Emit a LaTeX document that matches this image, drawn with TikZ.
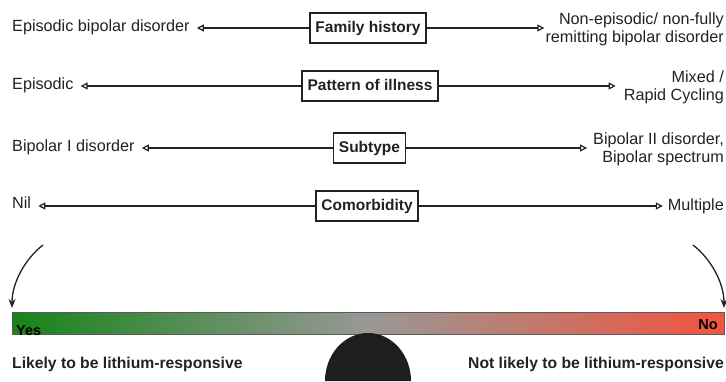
\documentclass[tikz,border=0pt]{standalone}
\usepackage{fontspec}
\setmainfont{Liberation Sans}
\usetikzlibrary{arrows.meta}
\definecolor{ink}{RGB}{34,34,34}
\definecolor{barL}{RGB}{22,132,24}
\definecolor{barM}{RGB}{152,152,150}
\definecolor{barR}{RGB}{242,84,62}
\definecolor{barEdge}{RGB}{90,90,90}
\definecolor{pivot}{RGB}{30,30,30}
\begin{document}
\begin{tikzpicture}[x=1pt,y=-1pt,
  txt/.style={font=\fontsize{16.2}{18}\selectfont, text=ink, inner sep=0pt},
  lefttxt/.style={txt, anchor=mid west},
  righttxt/.style={txt, anchor=east, align=right},
  factor/.style={draw=ink, line width=1.5pt, fill=white, text=ink,
    font=\fontsize{15.5}{18}\selectfont\bfseries,
    minimum height=30pt, inner xsep=5.5pt, text height=11pt, text depth=3pt},
  link/.style={draw=ink, line width=1.3pt,
    -{Triangle[open, length=7pt, width=7pt, line width=1.2pt]}},
  swing/.style={draw=ink, line width=1.3pt, -{Stealth[length=9pt, width=7pt]}},
  verdict/.style={font=\fontsize{15.7}{18}\selectfont\bfseries, text=ink, inner sep=0pt},
  endlabel/.style={font=\fontsize{14.5}{17}\selectfont\bfseries, text=black, inner sep=0pt}
]
\useasboundingbox (0,0) rectangle (726,381);

% factor boxes on the centre line
\node[factor] (fh) at (368,28) {Family history};
\node[factor] (pi) at (370,86) {Pattern of illness};
\node[factor] (st) at (369.5,148) {Subtype};
\node[factor] (cm) at (367,206) {Comorbidity};

% left-hand outcomes
\node[lefttxt] (l1) at (12,29) {Episodic bipolar disorder};
\node[lefttxt] (l2) at (12,87) {Episodic};
\node[lefttxt] (l3) at (12,149) {Bipolar I disorder};
\node[lefttxt] (l4) at (12,206) {Nil};

% right-hand outcomes
\node[righttxt] (r1) at (724,29) {Non-episodic/ non-fully\\remitting bipolar disorder};
\node[righttxt] (r2) at (724,87) {Mixed /\\Rapid Cycling};
\node[righttxt] (r3) at (724,149) {Bipolar II disorder,\\Bipolar spectrum};
\node[righttxt] (r4) at (724,206) {Multiple};

% arrows out of each factor
\draw[link, shorten >=7pt] (fh.west) -- (l1.east |- fh.west);
\draw[link, shorten >=1pt] (fh.east) -- (r1.west |- fh.east);
\draw[link, shorten >=7pt] (pi.west) -- (l2.east |- pi.west);
\draw[link, shorten >=8pt] (pi.east) -- (r2.west |- pi.east);
\draw[link, shorten >=7pt] (st.west) -- (l3.east |- st.west);
\draw[link, shorten >=6pt] (st.east) -- (r3.west |- st.east);
\draw[link, shorten >=7pt] (cm.west) -- (l4.east |- cm.west);
\draw[link, shorten >=5pt] (cm.east) -- (r4.west |- cm.east);

% balance beam with colour scale
\node[draw=barEdge, line width=0.8pt, minimum width=712pt, minimum height=22pt,
      inner sep=0pt, left color=barL, right color=barR, middle color=barM]
      (bar) at (368,323) {};
\node[endlabel, anchor=base west] (yes) at (16,335) {Yes};
\node[endlabel, anchor=base east] (no) at (718,329) {No};

% fulcrum
\fill[pivot] (325,381) arc[start angle=180, end angle=360, x radius=43, y radius=48] -- cycle;

% swinging arrows onto the beam ends
\coordinate (ys) at (43,245);
\coordinate (ye) at (12,308);
\coordinate (ns) at (693,245);
\coordinate (ne) at (724,308);
\draw[swing] (ys) .. controls (26,258) and (12,282) .. (ye);
\draw[swing] (ns) .. controls (710,258) and (724,282) .. (ne);

% verdicts
\node[verdict, anchor=mid west] (likely) at (12,366) {Likely to be lithium-responsive};
\node[verdict, anchor=mid east] (notlikely) at (724,366) {Not likely to be lithium-responsive};
\end{tikzpicture}
\end{document}
